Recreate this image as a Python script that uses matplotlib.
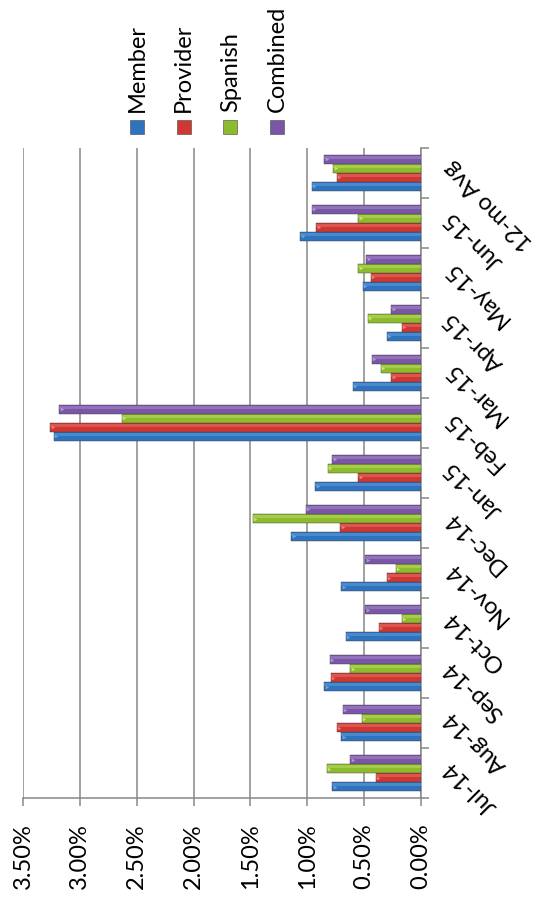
import numpy as np
import matplotlib
matplotlib.use('Agg')
import matplotlib.pyplot as plt
from matplotlib.patches import Rectangle

plt.rcParams['font.family'] = ['Lato', 'DejaVu Sans']

# monthly percentages per queue
months = ['Jul-14', 'Aug-14', 'Sep-14', 'Oct-14', 'Nov-14', 'Dec-14',
          'Jan-15', 'Feb-15', 'Mar-15', 'Apr-15', 'May-15', 'Jun-15', '12-mo Avg']
member = [0.78, 0.70, 0.85, 0.66, 0.70, 1.14, 0.93, 3.23, 0.60, 0.30, 0.51, 1.06, 0.96]
provider = [0.40, 0.74, 0.79, 0.37, 0.30, 0.71, 0.55, 3.26, 0.26, 0.17, 0.44, 0.92, 0.74]
spanish = [0.83, 0.52, 0.62, 0.17, 0.22, 1.48, 0.82, 2.63, 0.35, 0.47, 0.55, 0.55, 0.77]
combined = [0.62, 0.69, 0.80, 0.49, 0.49, 1.01, 0.78, 3.18, 0.43, 0.26, 0.48, 0.96, 0.85]

series = [('Member', member, '#2f72bd', '#6aa6e2'),
          ('Provider', provider, '#cf3733', '#f07a76'),
          ('Spanish', spanish, '#8cbb2e', '#c6e56e'),
          ('Combined', combined, '#7a57a6', '#b196d6')]

value_ticks = np.arange(0, 3.51, 0.5)
grid_col = '#878787'

fig = plt.figure(figsize=(5.36, 8.97), dpi=100)
ax = fig.add_axes([23/536, 99/897, 398/536, 650/897])

y = np.arange(len(months))
h = 0.18
for i, (name, vals, col, light) in enumerate(series):
    pos = y + (i - 1.5) * h
    ax.barh(pos, vals, height=h, color=col, edgecolor='#3a3a3a', linewidth=0.3, zorder=3)
    # lighter band on the upper side of each bar
    ax.barh(pos + h * 0.2, vals, height=h * 0.3, color=light, alpha=0.45, linewidth=0, zorder=4)
    ax.scatter(np.array(vals) - 0.02, pos, marker='>', s=7, color=light, zorder=5, linewidths=0)

ax.set_xlim(3.5, 0)
ax.set_ylim(-0.5, len(months) - 0.5)

ax.set_xticks(value_ticks)
ax.set_xticklabels([f'{t:.2f}%' for t in value_ticks], rotation=90, fontsize=17)
ax.grid(axis='x', color=grid_col, linewidth=1.1, zorder=0)
ax.tick_params(axis='x', direction='out', length=6, width=1.1, color=grid_col, pad=12)

ax.yaxis.tick_right()
ax.set_yticks(np.arange(-0.5, len(months), 1.0))
ax.set_yticklabels([])
ax.tick_params(axis='y', direction='out', length=6, width=1.1, color=grid_col)

for m, yc in zip(months, y):
    ax.annotate(m, xy=(1, yc), xycoords=('axes fraction', 'data'),
                xytext=(19, 6), textcoords='offset points',
                rotation=135, rotation_mode='anchor', ha='right', va='center', fontsize=17)

for s in ['top', 'left']:
    ax.spines[s].set_visible(False)
for s in ['bottom', 'right']:
    ax.spines[s].set_color(grid_col)
    ax.spines[s].set_linewidth(1.1)

# legend drawn by hand so the entries read bottom to top
for i, (name, vals, col, light) in enumerate(series):
    cx = 137 + i * 46.7
    fig.add_artist(Rectangle(((cx - 7) / 536, 1 - 134 / 897), 14 / 536, 14 / 897,
                             transform=fig.transFigure, facecolor=col,
                             edgecolor='#444444', linewidth=0.4))
    fig.text(cx / 536, 1 - 112 / 897, name, rotation=90, ha='center', va='bottom', fontsize=17)

fig.savefig('out.png', dpi=100)
